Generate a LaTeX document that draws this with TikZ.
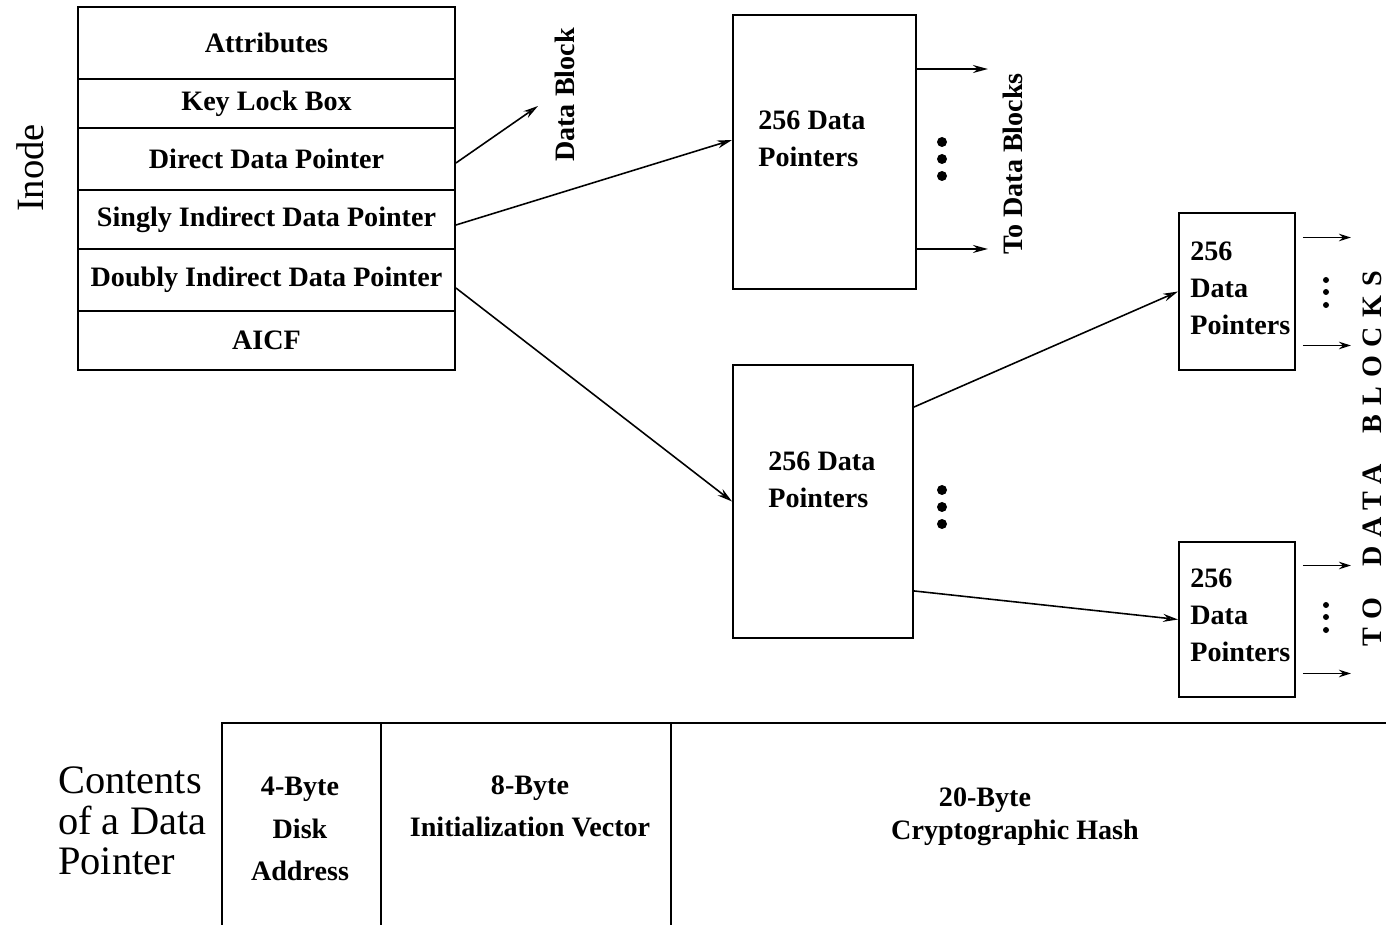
\documentclass[tikz,border=0pt]{standalone}
\usepackage{fontspec}
\setmainfont{Liberation Serif}
\newfontfamily\wideserif[LetterSpace=32]{Liberation Serif}
\usetikzlibrary{arrows.meta,positioning}

\tikzset{
  lbl/.style={font=\fontsize{16}{21}\selectfont\bfseries, inner sep=0pt},
  row/.style={draw, line width=1.1pt, minimum width=7.54cm, inner sep=0pt, lbl},
  ptrbox/.style={draw, line width=1.1pt, inner sep=0pt},
  cell/.style={draw, line width=1.1pt, inner sep=0pt, minimum height=4.24cm},
  opentip/.style={line width=0.9pt, -{Stealth[open,length=3mm,width=1.6mm]}},
  filltip/.style={line width=0.9pt, -{Stealth[length=2.4mm,width=1.5mm]}},
}

\begin{document}
\begin{tikzpicture}[x=0.02cm, y=-0.02cm]
\clip (0,0) rectangle (1386,925);

% The inode and its fields
\foreach \nm/\cy/\rh/\txt in {
  attr/43/1.44/Attributes,
  klb/103.5/0.98/Key Lock Box,
  dir/159/1.24/Direct Data Pointer,
  sing/219.5/1.18/Singly Indirect Data Pointer,
  doub/280/1.24/Doubly Indirect Data Pointer,
  aicf/340.5/1.18/AICF} {
  \node [row, minimum height=\rh cm] (\nm) at (266.5,\cy) {\txt};
}
\node [font=\fontsize{22}{26}\selectfont, rotate=90] (inode) at (30,168) {Inode};

% Direct pointer goes straight to a data block
\coordinate (dblk) at (538,106);
\draw [opentip] ([yshift=-0.08cm]dir.east) -- (dblk);
\node [lbl, rotate=90] (dbl) at (565,95) {Data Block};

% Pointer blocks
\node [ptrbox, minimum width=3.66cm, minimum height=5.48cm] (b1) at (824.5,152) {};
\node [ptrbox, minimum width=3.6cm, minimum height=5.46cm] (b2) at (823,501.5) {};
\node [ptrbox, minimum width=2.32cm, minimum height=3.14cm] (b3) at (1237,291.5) {};
\node [ptrbox, minimum width=2.32cm, minimum height=3.1cm] (b4) at (1237,619.5) {};
\node [lbl, align=left, anchor=west] (t1) at (758,139) {256 Data\\Pointers};
\node [lbl, align=left, anchor=west] (t2) at (768,480) {256 Data\\Pointers};
\node [lbl, align=left, anchor=west] (t3) at (1190,288) {256\\Data\\Pointers};
\node [lbl, align=left, anchor=west] (t4) at (1190,615) {256\\Data\\Pointers};

% Indirect pointers
\draw [opentip] ([yshift=-0.11cm]sing.east) -- ([yshift=0.24cm]b1.west);
\draw [opentip] ([yshift=-0.16cm]doub.east) -- (b2.west);
\draw [opentip] ([yshift=-0.86cm]b2.north east) -- (b3.west);
\draw [opentip] ([yshift=0.96cm]b2.south east) -- (b4.west);

% Outgoing pointers and dots
\draw [opentip] ([yshift=1.66cm]b1.east) -- +(1.42cm,0);
\draw [opentip] ([yshift=-1.94cm]b1.east) -- +(1.42cm,0);
\foreach \b in {b3,b4} {
  \draw [filltip] ([xshift=0.14cm,yshift=1.08cm]\b.east) -- +(0.96cm,0);
  \draw [filltip] ([xshift=0.14cm,yshift=-1.08cm]\b.east) -- +(0.96cm,0);
}
\foreach \dy in {142,159,176,490,507,524} {
  \fill (942,\dy) circle (0.1cm);
}
\foreach \dy in {280,292,305,605,617,630} {
  \fill (1326,\dy) circle (0.06cm);
}
\node [lbl, rotate=90] (tdb) at (1013,164) {To Data Blocks};
\node [font=\fontsize{16}{21}\wideserif\bfseries, inner sep=0pt, rotate=90] (tdb2) at (1372,459)
  {TO\hspace{1.1em}DATA\hspace{1.1em}BLOCKS};

% Contents of a data pointer
\node [font=\fontsize{23}{23}\selectfont, align=left, anchor=west] (cont) at (52,821)
  {Contents\\of a Data\\Pointer};
\node [cell, minimum width=3.18cm] (c1) at (301.5,829) {};
\node [cell, minimum width=5.8cm] (c2) at (526,829) {};
\node [cell, minimum width=14.58cm] (c3) at (1035.5,829) {};
\node [lbl, font=\fontsize{16}{24}\selectfont\bfseries, align=center] (addr) at (300,829)
  {4-Byte\\Disk\\Address};
\node [lbl, font=\fontsize{16}{24}\selectfont\bfseries, align=center] (iv) at (530,806.5)
  {8-Byte\\Initialization Vector};
\node [lbl] (hash1) at (985,800) {20-Byte};
\node [lbl] (hash2) at (1015,833) {Cryptographic Hash};
\end{tikzpicture}
\end{document}
